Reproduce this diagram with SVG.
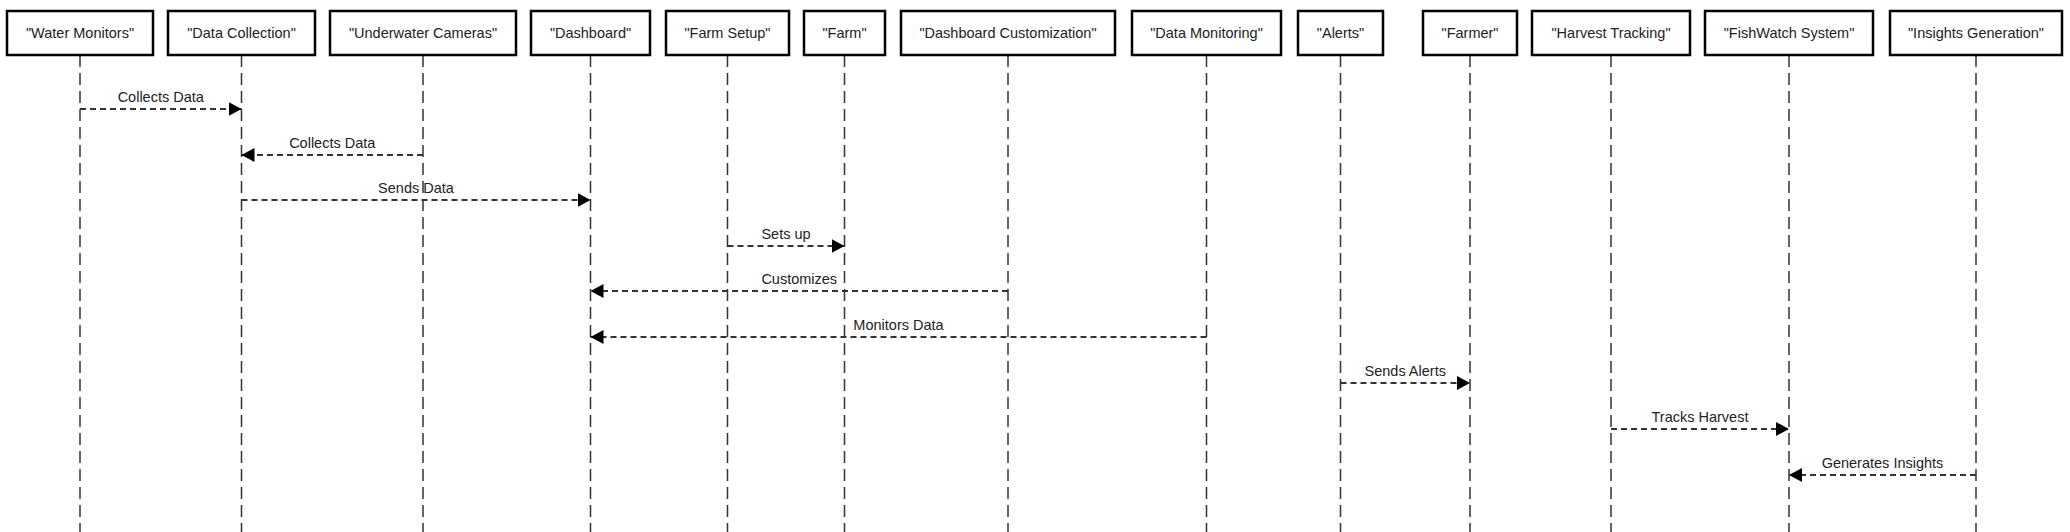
<svg xmlns="http://www.w3.org/2000/svg" width="2070" height="532" viewBox="0 0 2070 532">
<style>
.box{fill:#fff;stroke:#000;stroke-width:2.5}
.bt{font-family:"Liberation Sans",Arial,sans-serif;font-size:14.5px;fill:#222;text-anchor:middle}
.life{stroke:#333;stroke-width:1.5;stroke-dasharray:12 6;fill:none}
.msg{stroke:#333;stroke-width:2;stroke-dasharray:6 4;fill:none}
.ml{font-family:"Liberation Sans",Arial,sans-serif;font-size:14.5px;fill:#222;text-anchor:middle}
</style>
<defs>
<marker id="ah" viewBox="0 0 13 14" refX="13" refY="7" markerWidth="13" markerHeight="14" markerUnits="userSpaceOnUse" orient="auto">
<path d="M0,0 L13,7 L0,14 Z" fill="#000"/>
</marker>
</defs>
<rect width="2070" height="532" fill="#fff"/>
<g id="lifelines">
<line class="life" x1="80" y1="55" x2="80" y2="532"/>
<line class="life" x1="241.5" y1="55" x2="241.5" y2="532"/>
<line class="life" x1="423" y1="55" x2="423" y2="532"/>
<line class="life" x1="590.5" y1="55" x2="590.5" y2="532"/>
<line class="life" x1="727.5" y1="55" x2="727.5" y2="532"/>
<line class="life" x1="844.5" y1="55" x2="844.5" y2="532"/>
<line class="life" x1="1008" y1="55" x2="1008" y2="532"/>
<line class="life" x1="1206.5" y1="55" x2="1206.5" y2="532"/>
<line class="life" x1="1340.5" y1="55" x2="1340.5" y2="532"/>
<line class="life" x1="1470" y1="55" x2="1470" y2="532"/>
<line class="life" x1="1611" y1="55" x2="1611" y2="532"/>
<line class="life" x1="1789" y1="55" x2="1789" y2="532"/>
<line class="life" x1="1976" y1="55" x2="1976" y2="532"/>
</g>
<g id="n1"><rect class="box" x="7" y="11" width="146" height="44"/><text class="bt" x="80" y="37.5">"Water Monitors"</text></g>
<g id="n2"><rect class="box" x="168" y="11" width="147" height="44"/><text class="bt" x="241.5" y="37.5">"Data Collection"</text></g>
<g id="n3"><rect class="box" x="330" y="11" width="186" height="44"/><text class="bt" x="423" y="37.5">"Underwater Cameras"</text></g>
<g id="n4"><rect class="box" x="531" y="11" width="119" height="44"/><text class="bt" x="590.5" y="37.5">"Dashboard"</text></g>
<g id="n5"><rect class="box" x="666" y="11" width="123" height="44"/><text class="bt" x="727.5" y="37.5">"Farm Setup"</text></g>
<g id="n6"><rect class="box" x="804" y="11" width="81" height="44"/><text class="bt" x="844.5" y="37.5">"Farm"</text></g>
<g id="n7"><rect class="box" x="901" y="11" width="214" height="44"/><text class="bt" x="1008" y="37.5">"Dashboard Customization"</text></g>
<g id="n8"><rect class="box" x="1132" y="11" width="149" height="44"/><text class="bt" x="1206.5" y="37.5">"Data Monitoring"</text></g>
<g id="n9"><rect class="box" x="1298" y="11" width="85" height="44"/><text class="bt" x="1340.5" y="37.5">"Alerts"</text></g>
<g id="n10"><rect class="box" x="1423" y="11" width="94" height="44"/><text class="bt" x="1470" y="37.5">"Farmer"</text></g>
<g id="n11"><rect class="box" x="1532" y="11" width="158" height="44"/><text class="bt" x="1611" y="37.5">"Harvest Tracking"</text></g>
<g id="n12"><rect class="box" x="1705" y="11" width="168" height="44"/><text class="bt" x="1789" y="37.5">"FishWatch System"</text></g>
<g id="n13"><rect class="box" x="1890" y="11" width="172" height="44"/><text class="bt" x="1976" y="37.5">"Insights Generation"</text></g>
<g id="connectors">
<line class="msg" x1="80" y1="109" x2="241.5" y2="109" marker-end="url(#ah)"/>
<text class="ml" x="160.75" y="102">Collects Data</text>
<line class="msg" x1="423" y1="155" x2="241.5" y2="155" marker-end="url(#ah)"/>
<text class="ml" x="332.25" y="148">Collects Data</text>
<line class="msg" x1="241.5" y1="200" x2="590.5" y2="200" marker-end="url(#ah)"/>
<text class="ml" x="416" y="193">Sends Data</text>
<line class="msg" x1="727.5" y1="246" x2="844.5" y2="246" marker-end="url(#ah)"/>
<text class="ml" x="786" y="239">Sets up</text>
<line class="msg" x1="1008" y1="291" x2="590.5" y2="291" marker-end="url(#ah)"/>
<text class="ml" x="799.25" y="284">Customizes</text>
<line class="msg" x1="1206.5" y1="337" x2="590.5" y2="337" marker-end="url(#ah)"/>
<text class="ml" x="898.5" y="330">Monitors Data</text>
<line class="msg" x1="1340.5" y1="383" x2="1470" y2="383" marker-end="url(#ah)"/>
<text class="ml" x="1405.25" y="376">Sends Alerts</text>
<line class="msg" x1="1611" y1="429" x2="1789" y2="429" marker-end="url(#ah)"/>
<text class="ml" x="1700" y="422">Tracks Harvest</text>
<line class="msg" x1="1976" y1="475" x2="1789" y2="475" marker-end="url(#ah)"/>
<text class="ml" x="1882.5" y="468">Generates Insights</text>
</g>
</svg>
